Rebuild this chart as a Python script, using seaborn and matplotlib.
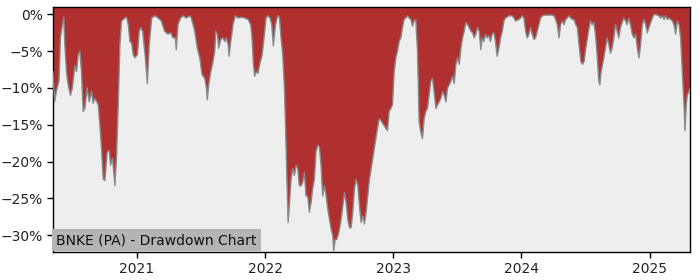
import matplotlib
matplotlib.use("Agg")
import matplotlib.pyplot as plt
import matplotlib.dates as mdates
import matplotlib.ticker as mticker
import numpy as np
import pandas as pd
import seaborn as sns

title_text = "BNKE (PA) - Drawdown Chart"

# decimal-year dates and drawdown values (%)
years_dec = [
    2020.346, 2020.359, 2020.372, 2020.393, 2020.404, 2020.419, 2020.430, 2020.438, 2020.451, 2020.464,
    2020.482, 2020.497, 2020.516, 2020.529, 2020.542, 2020.555, 2020.568, 2020.581, 2020.594, 2020.612,
    2020.628, 2020.646, 2020.659, 2020.672, 2020.698, 2020.711, 2020.724, 2020.737, 2020.750, 2020.768,
    2020.784, 2020.794, 2020.810, 2020.828, 2020.841, 2020.854, 2020.867, 2020.880, 2020.906, 2020.919,
    2020.932, 2020.945, 2020.958, 2020.971, 2020.984, 2021.003, 2021.018, 2021.029, 2021.044, 2021.063,
    2021.081, 2021.096, 2021.115, 2021.141,
    2021.164, 2021.190, 2021.216, 2021.242, 2021.263, 2021.281, 2021.299, 2021.307, 2021.320, 2021.341,
    2021.359, 2021.385, 2021.411, 2021.424, 2021.438, 2021.451, 2021.471, 2021.490, 2021.508, 2021.529,
    2021.542, 2021.549, 2021.560, 2021.576, 2021.594, 2021.607, 2021.615, 2021.628, 2021.638, 2021.654,
    2021.672, 2021.685, 2021.698, 2021.711, 2021.719, 2021.732, 2021.750, 2021.768, 2021.789, 2021.815,
    2021.841, 2021.867, 2021.888, 2021.898, 2021.909, 2021.919, 2021.932, 2021.945, 2021.958, 2021.977,
    2021.992,
    2022.008, 2022.021, 2022.039, 2022.052, 2022.065, 2022.081, 2022.099, 2022.112, 2022.125, 2022.138,
    2022.151, 2022.159, 2022.169, 2022.180, 2022.190, 2022.203, 2022.216, 2022.229, 2022.242, 2022.255,
    2022.268, 2022.281, 2022.294, 2022.307, 2022.320, 2022.333, 2022.346, 2022.359, 2022.372, 2022.385,
    2022.398, 2022.411, 2022.424, 2022.437, 2022.450, 2022.464, 2022.477, 2022.490, 2022.503, 2022.516,
    2022.529, 2022.536, 2022.547, 2022.560, 2022.576, 2022.594, 2022.607, 2022.620, 2022.633, 2022.646,
    2022.659, 2022.672, 2022.685, 2022.698, 2022.711, 2022.724, 2022.737, 2022.750, 2022.763, 2022.776,
    2022.789, 2022.802, 2022.815, 2022.828, 2022.841,
    2022.852, 2022.865, 2022.878, 2022.891, 2022.904, 2022.917, 2022.930, 2022.943, 2022.956, 2022.969,
    2022.982, 2022.995, 2023.008, 2023.021, 2023.034, 2023.047, 2023.060, 2023.073, 2023.086, 2023.099,
    2023.112, 2023.125, 2023.138, 2023.151, 2023.164, 2023.177, 2023.190, 2023.203, 2023.216, 2023.229,
    2023.242, 2023.255, 2023.268, 2023.281, 2023.294, 2023.307, 2023.320, 2023.334, 2023.347, 2023.360,
    2023.373, 2023.386, 2023.399, 2023.412, 2023.425, 2023.438, 2023.451, 2023.464, 2023.477, 2023.490,
    2023.503, 2023.516, 2023.529, 2023.542, 2023.555, 2023.568, 2023.581, 2023.594, 2023.607, 2023.620,
    2023.633, 2023.646, 2023.659, 2023.672, 2023.685,
    2023.695, 2023.708, 2023.721, 2023.734, 2023.747, 2023.760, 2023.773, 2023.786, 2023.799, 2023.812,
    2023.826, 2023.839, 2023.852, 2023.865, 2023.878, 2023.904, 2023.930, 2023.943, 2023.956, 2023.969,
    2023.982, 2023.995, 2024.008, 2024.021, 2024.034, 2024.047, 2024.060, 2024.073, 2024.086, 2024.099,
    2024.112, 2024.125, 2024.138, 2024.151, 2024.164, 2024.190, 2024.216, 2024.242, 2024.255, 2024.268,
    2024.281, 2024.294, 2024.307, 2024.320, 2024.333, 2024.346, 2024.359, 2024.372, 2024.385, 2024.398,
    2024.411, 2024.424, 2024.437, 2024.450, 2024.464, 2024.477, 2024.490, 2024.503, 2024.516, 2024.529,
    2024.539, 2024.552, 2024.565, 2024.578, 2024.591, 2024.604, 2024.612, 2024.622, 2024.638, 2024.656,
    2024.669, 2024.682, 2024.695, 2024.708, 2024.721, 2024.734, 2024.747, 2024.760, 2024.773, 2024.786,
    2024.799, 2024.812, 2024.825, 2024.838, 2024.851, 2024.865, 2024.878, 2024.891, 2024.904, 2024.917,
    2024.930, 2024.943, 2024.956, 2024.969, 2024.982, 2024.995, 2025.008, 2025.021, 2025.034, 2025.060,
    2025.073, 2025.086, 2025.099, 2025.112, 2025.125, 2025.138, 2025.151, 2025.164, 2025.177, 2025.190,
    2025.203, 2025.216, 2025.229, 2025.242, 2025.255, 2025.268, 2025.276, 2025.286, 2025.294, 2025.307,
    2025.315,
]

drawdown = [
    -7.8, -11.9, -10.5, -9.0, -3.2, -1.4, -0.4, -4.1, -7.8, -9.6,
    -11.0, -10.0, -7.0, -7.8, -5.5, -5.0, -7.8, -13.2, -12.8, -10.0,
    -11.9, -10.5, -12.1, -11.4, -12.3, -15.0, -18.3, -22.4, -22.6, -18.7,
    -18.5, -20.5, -19.6, -23.3, -19.2, -12.3, -4.1, -0.9, -0.5, -0.4,
    -1.4, -3.7, -3.9, -5.5, -5.9, -5.5, -2.3, -1.8, -2.3, -5.5,
    -9.4, -4.1, -0.5, -0.2,
    -0.5, -0.9, -2.3, -2.7, -2.5, -3.2, -3.2, -4.8, -1.4, -0.5,
    -0.2, -0.5, -0.2, -0.5, -1.4, -2.3, -4.6, -5.9, -8.2, -8.7,
    -10.0, -11.6, -9.6, -7.8, -6.4, -5.0, -2.3, -2.7, -4.6, -3.4,
    -3.2, -3.7, -3.2, -4.1, -5.7, -3.7, -1.4, -0.2, -0.5, -0.4,
    -0.5, -0.7, -1.4, -3.2, -6.8, -8.4, -7.8, -8.0, -6.8, -5.5,
    -3.2,
    -0.5, -0.2, -0.5, -1.4, -4.3, -1.4, -0.2, -0.4, -3.2, -5.5,
    -10.0, -14.6, -21.5, -28.3, -26.0, -22.4, -21.0, -21.9, -20.5, -21.0,
    -23.3, -23.3, -22.8, -21.5, -24.7, -24.7, -26.9, -25.6, -23.7, -22.4,
    -18.7, -17.8, -18.0, -20.5, -24.7, -23.3, -24.7, -26.5, -27.9, -29.2,
    -30.1, -32.2, -30.6, -30.6, -29.7, -27.9, -26.0, -24.2, -25.6, -27.9,
    -29.0, -29.0, -26.9, -23.7, -22.4, -23.3, -26.0, -28.3, -27.4, -28.5,
    -26.9, -24.7, -22.4, -21.0, -19.6,
    -18.3, -16.9, -15.5, -14.2, -14.4, -14.8, -15.1, -15.5, -15.8, -13.2,
    -12.8, -12.3, -7.8, -5.9, -5.0, -3.7, -3.2, -1.8, -0.7, -0.5,
    -0.2, -0.5, -0.7, -1.6, -0.9, -0.7, -5.0, -14.6, -16.0, -16.9,
    -14.2, -13.2, -12.8, -11.0, -9.1, -8.7, -10.5, -12.8, -12.3, -11.9,
    -11.4, -10.5, -11.0, -11.9, -10.0, -9.6, -9.1, -8.4, -9.4, -6.8,
    -5.9, -6.8, -4.6, -3.2, -2.3, -1.1, -1.4, -1.8, -2.3, -2.5,
    -3.2, -2.7, -1.8, -2.3, -4.8,
    -3.2, -3.7, -2.7, -3.2, -2.9, -3.7, -2.7, -2.5, -3.7, -5.7,
    -4.6, -3.2, -2.3, -0.9, -0.5, -0.2, -0.2, -0.5, -0.9, -0.8,
    -0.7, -0.5, -0.2, -0.5, -2.3, -3.2, -2.7, -1.8, -2.7, -3.4,
    -3.2, -2.3, -1.4, -0.5, -0.2, -0.1, -0.1, -0.1, -0.2, -0.7,
    -1.4, -3.2, -1.4, -0.9, -1.4, -0.7, -0.5, -0.2, -0.5, -0.7,
    -0.7, -1.4, -1.8, -4.1, -6.4, -6.8, -6.4, -4.6, -3.2, -1.8,
    -0.9, -1.4, -1.1, -2.7, -5.5, -9.1, -9.6, -7.8, -6.4, -4.6,
    -3.2, -4.1, -5.3, -4.6, -3.2, -1.4, -2.3, -3.2, -1.8, -1.1,
    -0.5, -0.9, -1.4, -0.5, -1.4, -2.7, -3.2, -2.7, -4.6, -5.9,
    -4.1, -1.4, -0.7, -1.4, -2.5, -1.8, -1.1, -0.5, 0.0, -0.1,
    -0.2, -0.5, -0.2, -0.7, -0.2, -0.7, -0.5, -0.7, -0.9, -1.4,
    -2.7, -0.9, -1.4, -3.2, -7.8, -12.3, -15.8, -12.3, -11.0, -10.5,
    -10.0,
]

year_ticks = [2021, 2022, 2023, 2024, 2025]
y_ticks = [0, -5, -10, -15, -20, -25, -30]


def to_datetime(y):
    yr = int(np.floor(y))
    start = pd.Timestamp(year=yr, month=1, day=1)
    end = pd.Timestamp(year=yr + 1, month=1, day=1)
    return start + (end - start) * (y - yr)


df = pd.DataFrame({
    "date": [to_datetime(y) for y in years_dec],
    "drawdown": drawdown,
})

sns.set_style("white")
plt.rcParams["font.family"] = ["DejaVu Sans"]

fig = plt.figure(figsize=(7, 2.8), dpi=100)
ax = fig.add_axes([0.0757, 0.1, 0.91, 0.875])
ax.set_facecolor("#eeeeee")

y_lo, y_hi = -32.3, 1.0
ax.fill_between(df["date"], df["drawdown"], y_hi + 5, color="#b03030", linewidth=0, zorder=2)
sns.lineplot(data=df, x="date", y="drawdown", ax=ax, color="#8a8a8a", linewidth=1.0, zorder=3)

ax.set_xlim(df["date"].iloc[0], df["date"].iloc[-1])
ax.set_ylim(y_lo, y_hi)
ax.set_xticks([pd.Timestamp(year=y, month=1, day=1) for y in year_ticks])
ax.xaxis.set_major_formatter(mdates.DateFormatter("%Y"))
ax.set_yticks(y_ticks)
ax.yaxis.set_major_formatter(mticker.FuncFormatter(lambda v, p: f"{v:.0f}%".replace("-", "\u2212")))
ax.set_xlabel("")
ax.set_ylabel("")
ax.tick_params(axis="both", which="major", labelsize=10, length=4, width=1, color="black",
               labelcolor="#222222", bottom=True, left=True)
for s in ax.spines.values():
    s.set_color("black")
    s.set_linewidth(1.0)
    s.set_visible(True)

ax.annotate(title_text, xy=(0, 0), xycoords="axes fraction", xytext=(2.5, 3.5),
            textcoords="offset points", ha="left", va="bottom", fontsize=10, color="#111111",
            bbox=dict(facecolor="#b4b4b4", edgecolor="none", pad=3), zorder=5,
            annotation_clip=False)

fig.savefig("out.png", dpi=100)
